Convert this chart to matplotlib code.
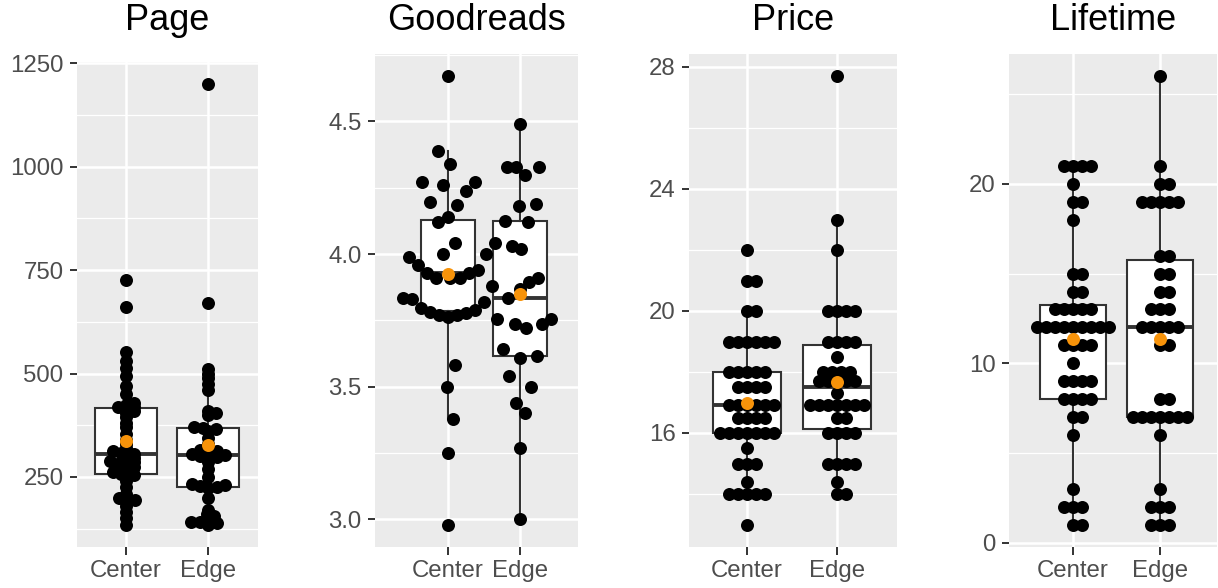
import numpy as np
import matplotlib
matplotlib.use("Agg")
import matplotlib.pyplot as plt

plt.rcParams['font.family'] = ['Liberation Sans', 'DejaVu Sans']

W, H, DPI = 1218, 588, 100

groups = ["Center", "Edge"]
titles = ["Page", "Goodreads", "Price", "Lifetime"]

page_center = [727, 662, 552, 530, 513, 493, 471, 450, 430, 425, 420, 420, 415, 410, 405, 395,
               380, 370, 355, 340, 330, 320, 312, 308, 305, 300, 295, 290, 288, 285, 282, 280,
               275, 270, 262, 258, 255, 250, 240, 225, 210, 198, 195, 192, 180, 165, 150, 134]
page_edge = [1200, 671, 510, 500, 490, 475, 460, 410, 405, 400, 370, 368, 365, 360, 345, 330,
             320, 315, 312, 310, 305, 303, 300, 298, 296, 285, 270, 250, 232, 230, 228, 226,
             224, 200, 170, 160, 155, 148, 142, 140, 138, 135]

goodreads_center = [2.98, 3.25, 3.38, 3.50, 3.58,
                    3.763, 3.77, 3.77, 3.776, 3.78, 3.79, 3.795, 3.82, 3.83, 3.835, 3.88,
                    3.908, 3.91, 3.91, 3.927, 3.93, 3.94, 3.96,
                    3.99, 4.00, 4.00, 4.04, 4.04, 4.12, 4.14,
                    4.185, 4.198, 4.237, 4.26, 4.27, 4.27, 4.34, 4.39, 4.67]
goodreads_edge = [3.00, 3.27, 3.40, 3.44, 3.50, 3.54, 3.61, 3.617, 3.644, 3.72,
                  3.736, 3.736, 3.756, 3.756, 3.835, 3.87, 3.895, 3.91, 4.02, 4.03,
                  4.12, 4.125, 4.18, 4.19, 4.30, 4.33, 4.33, 4.33, 4.49]

price_center = [21.99, 20.99, 20.99, 19.99, 19.99,
                18.99, 18.99, 18.99, 18.99, 18.99, 18.99,
                17.99, 17.99, 17.99, 17.99, 17.99,
                17.5, 17.5, 17.5, 17.5,
                16.9, 16.9, 16.9, 16.9, 16.9, 16.9,
                16.5, 16.5, 16.5, 16.5,
                15.99, 15.99, 15.99, 15.99, 15.99, 15.99, 15.99,
                15.5, 14.99, 14.99, 14.99, 14.4,
                13.99, 13.99, 13.99, 13.99, 13.99, 12.99]
price_edge = [27.69, 22.99, 21.99, 19.99, 19.99, 19.99, 19.99,
              18.99, 18.99, 18.99, 18.99, 18.5,
              17.99, 17.99, 17.99, 17.99,
              17.7, 17.7, 17.7, 17.7, 17.7, 17.29,
              16.9, 16.9, 16.9, 16.9, 16.9, 16.9, 16.9,
              16.5, 16.5, 15.99, 15.99, 15.99, 15.99,
              14.99, 14.99, 14.99, 14.99, 14.4, 13.99, 13.99]

lifetime_center = [21, 21, 21, 21, 20, 19, 19, 18, 15, 15, 14, 14, 13, 13, 13, 13, 13,
                   12, 12, 12, 12, 12, 12, 12, 12, 12, 11, 11, 11, 11, 10, 9, 9, 9, 9,
                   8, 8, 8, 8, 7, 7, 6, 3, 2, 2, 2, 1, 1]
lifetime_edge = [26, 21, 20, 20, 19, 19, 19, 19, 19, 16, 16, 15, 15, 14, 14, 13, 13, 13,
                 12, 12, 12, 12, 12, 11, 11, 8, 8, 7, 7, 7, 7, 7, 7, 7, 6, 3, 2, 2, 2,
                 1, 1, 1]

page_ticks = [250, 500, 750, 1000, 1250]
goodreads_ticks = [3.0, 3.5, 4.0, 4.5]
price_ticks = [16, 20, 24, 28]
lifetime_ticks = [0, 10, 20]

page_minor = [125, 375, 625, 875, 1125]
goodreads_minor = [3.25, 3.75, 4.25, 4.75]
price_minor = [14, 18, 22, 26]
lifetime_minor = [5, 15, 25]

panels = [
    (page_center, page_edge, page_ticks, page_minor, "{:.0f}"),
    (goodreads_center, goodreads_edge, goodreads_ticks, goodreads_minor, "{:.1f}"),
    (price_center, price_edge, price_ticks, price_minor, "{:.0f}"),
    (lifetime_center, lifetime_edge, lifetime_ticks, lifetime_minor, "{:.0f}"),
]

# layout (pixels): left, right, top, bottom, xlim, vertical swarm spacing (px)
rects = [
    (77, 258, 62, 547, (0.402, 2.61), 4.0),
    (375, 578, 54, 547, (-0.014, 2.806), 40.0),
    (689, 897, 54, 547, (0.356, 2.667), 10.0),
    (1009, 1217, 54, 547, (0.264, 2.655), 10.0),
]

DOT_PX = 13.0
SX = 9.0    # horizontal swarm spacing (px)
BG = "#EBEBEB"
DARK = "#333333"
TXT = "#4D4D4D"
ORANGE = "#F7930A"


def swarm(vals_px, sx, sy):
    vals_px = np.asarray(vals_px, float)
    order = np.argsort(vals_px, kind="stable")
    px, py = [], []
    offs = np.zeros(len(vals_px))
    for i in order:
        y = vals_px[i]
        near = [(a, b) for a, b in zip(px, py) if abs(b - y) < sy]
        cands = [0.0]
        for a, b in near:
            dx = sx * np.sqrt(max(1 - ((b - y) / sy) ** 2, 0.0))
            cands += [a + dx, a - dx]
        best = 0.0
        for c in sorted(cands, key=lambda c: (round(abs(c), 6), -c)):
            if all(((c - a) / sx) ** 2 + ((y - b) / sy) ** 2 >= 1 - 1e-6 for a, b in near):
                best = c
                break
        offs[i] = best
        px.append(best)
        py.append(y)
    return offs


fig = plt.figure(figsize=(W / DPI, H / DPI), dpi=DPI)

for (cen, edg, ticks, minor, fmt), (l, r, t, b, xlim, sy), title in zip(panels, rects, titles):
    ax = fig.add_axes([l / W, 1 - b / H, (r - l) / W, (b - t) / H])
    ax.set_facecolor(BG)
    allv = np.array(cen + edg, float)
    rng = allv.max() - allv.min()
    ylim = (allv.min() - 0.05 * rng, allv.max() + 0.05 * rng)
    ax.set_ylim(*ylim)
    ax.set_xlim(*xlim)
    ypx = (b - t) / (ylim[1] - ylim[0])
    xpx = (r - l) / (xlim[1] - xlim[0])

    for m in minor:
        ax.axhline(m, color="white", lw=0.9, zorder=0.5)
    for tk in ticks:
        ax.axhline(tk, color="white", lw=1.8, zorder=0.6)
    for xi in (1, 2):
        ax.axvline(xi, color="white", lw=1.8, zorder=0.6)

    data = [np.array(cen, float), np.array(edg, float)]
    ax.boxplot(data, positions=[1, 2], widths=0.75, whis=1.5, showfliers=False,
               showcaps=False, patch_artist=True, manage_ticks=False,
               boxprops=dict(facecolor="white", edgecolor=DARK, linewidth=1.5),
               whiskerprops=dict(color=DARK, linewidth=1.5),
               medianprops=dict(color=DARK, linewidth=2.8, solid_capstyle="butt"),
               zorder=2)

    for xi, d in zip((1, 2), data):
        offs = swarm(d * ypx, SX, sy)
        ax.scatter(xi + offs / xpx, d, s=(DOT_PX * 72 / DPI) ** 2, color="black",
                   linewidths=0, zorder=3)
        ax.scatter([xi], [d.mean()], s=(DOT_PX * 72 / DPI) ** 2, color=ORANGE,
                   linewidths=0, zorder=4)

    ax.set_yticks(ticks)
    ax.set_yticklabels([fmt.format(v) for v in ticks])
    ax.set_xticks([1, 2])
    ax.set_xticklabels(groups)
    ax.tick_params(axis="both", length=5.4, width=1.4, color=DARK, labelcolor=TXT,
                   labelsize=17.3, pad=4.3)
    for sp in ax.spines.values():
        sp.set_visible(False)

    fig.text((l + r) / 2 / W, 1 - 20 / H, title, ha="center", va="center",
             fontsize=26, color="black")

fig.savefig("out.png", dpi=DPI)
